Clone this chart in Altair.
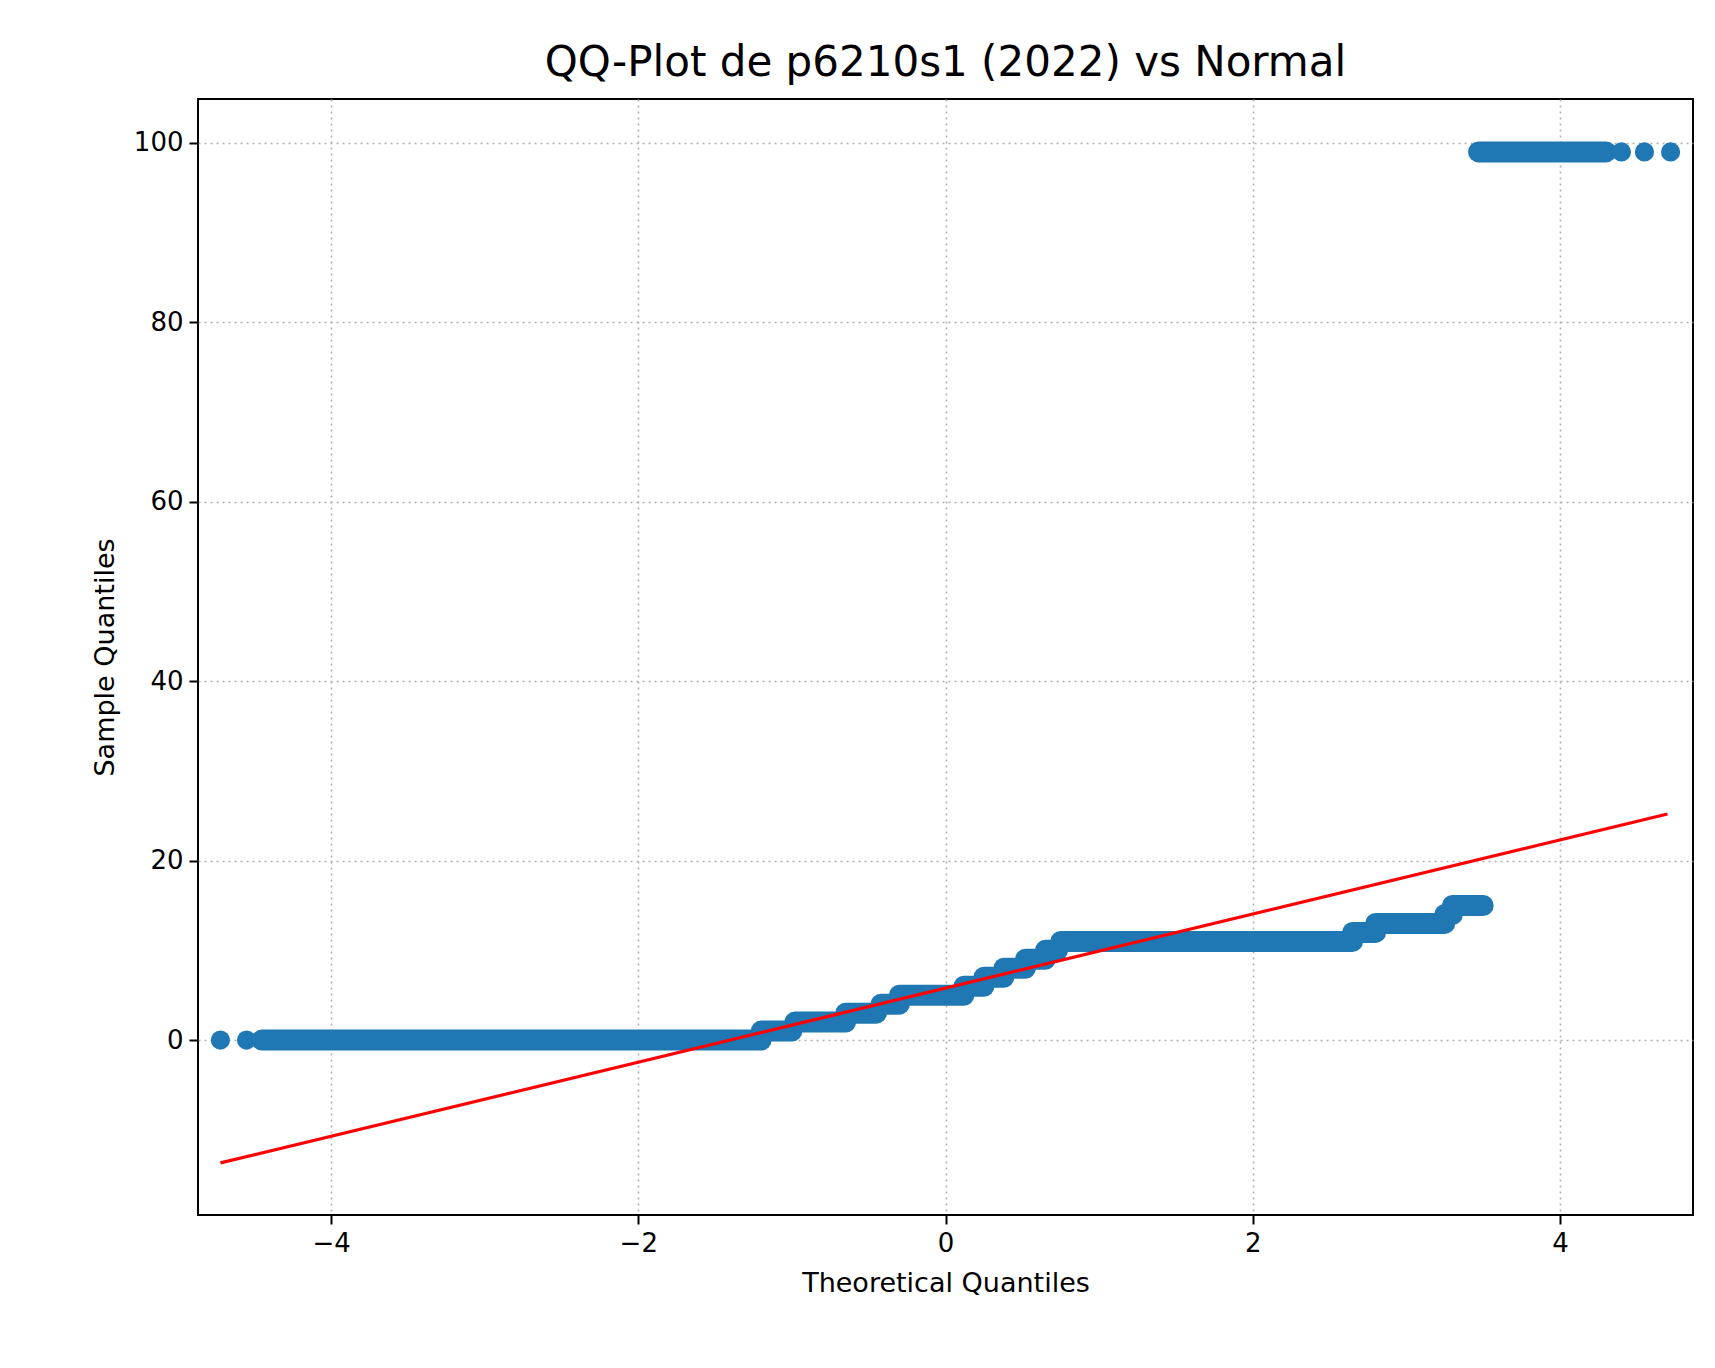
import altair as alt
import pandas as pd

# horizontal runs of sample quantiles (level, theoretical start, theoretical end)
levels = [0, 1, 2, 3, 4, 5, 6, 7, 8, 9, 10, 11, 12, 13, 14, 15, 99]
x_start = [-4.45, -1.2, -0.98, -0.65, -0.42, -0.3, 0.12, 0.25, 0.38, 0.52, 0.65, 0.75, 2.65, 2.8, 3.25, 3.3, 3.47]
x_end = [-1.2, -1.0, -0.65, -0.45, -0.3, 0.12, 0.25, 0.38, 0.52, 0.65, 0.73, 2.65, 2.8, 3.25, 3.3, 3.5, 4.3]

# isolated extreme points
pt_x = [-4.72, -4.55, -4.45, 4.4, 4.55, 4.72]
pt_y = [0, 0, 0, 99, 99, 99]

# reference line
line_x = [-4.72, 4.7]
line_y = [-13.7, 25.2]

runs = pd.DataFrame({"y": levels, "x": x_start, "x2": x_end})
pts = pd.DataFrame({"x": pt_x, "y": pt_y})
ln = pd.DataFrame({"x": line_x, "y": line_y})

xs = alt.Scale(domain=[-4.866, 4.866], nice=False, zero=False)
ys = alt.Scale(domain=[-19.5, 104.9], nice=False, zero=False)
blue = "#1f77b4"

xax = alt.X("x:Q", scale=xs, title="Theoretical Quantiles",
            axis=alt.Axis(values=[-4, -2, 0, 2, 4], labelExpr="replace(datum.label, '-', '\u2212')"))
yax = alt.Y("y:Q", scale=ys, title="Sample Quantiles",
            axis=alt.Axis(values=[0, 20, 40, 60, 80, 100]))

r = alt.Chart(runs).mark_rule(color=blue, strokeWidth=21, strokeCap="round").encode(
    x=xax, x2="x2:Q", y=yax)
p = alt.Chart(pts).mark_circle(color=blue, size=370, opacity=1).encode(x=xax, y=yax)
l = alt.Chart(ln).mark_line(color="red", strokeWidth=3.3).encode(x=xax, y=yax)

chart = (
    alt.layer(r, p, l)
    .properties(width=1495, height=1116, autosize="none",
                padding={"left": 190, "top": 91, "right": 10, "bottom": 140},
                title=alt.Title("QQ-Plot de p6210s1 (2022) vs Normal", fontSize=42,
                                fontWeight="normal", font="DejaVu Sans", offset=14))
    .configure_view(stroke="black", strokeWidth=2)
    .configure_axis(labelFont="DejaVu Sans", titleFont="DejaVu Sans", labelFontSize=26,
                    titleFontSize=27, titleFontWeight="normal", labelColor="black",
                    titleColor="black", tickColor="black", tickSize=9, tickWidth=2,
                    domain=False, grid=True, gridColor="#b0b0b0", gridDash=[2, 4],
                    gridWidth=1.6, labelPadding=6, titlePadding=14)
)

chart.save("out.html", embed_options={"renderer": "svg", "actions": False})
